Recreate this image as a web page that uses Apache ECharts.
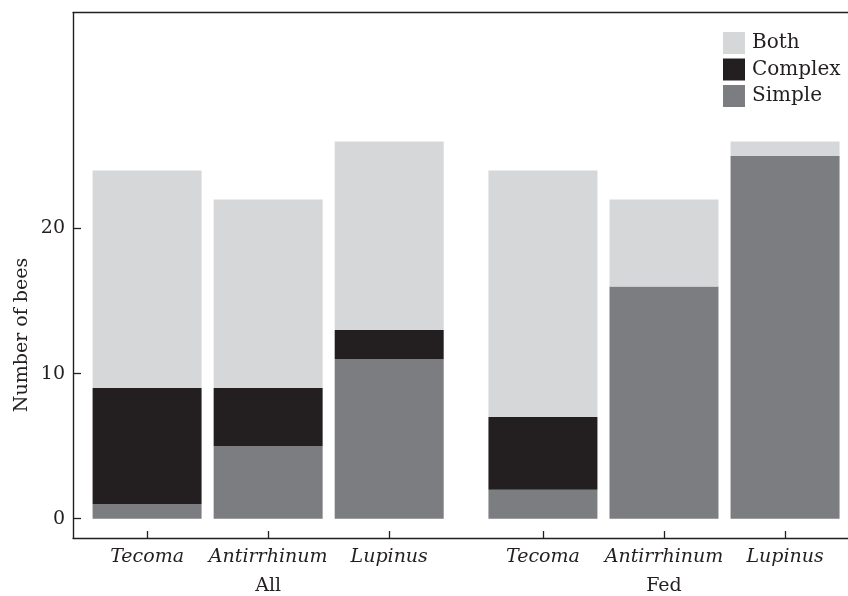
<!DOCTYPE html>
<html>
<head>
<meta charset="utf-8">
<script src="https://cdn.jsdelivr.net/npm/echarts@6/dist/echarts.min.js"></script>
<style>
  html, body { margin: 0; padding: 0; background: #fff; }
  #chart { width: 848px; height: 596px; }
</style>
</head>
<body>
<div id="chart"></div>
<script>
// Flower species shown in each treatment group
const species = ['Tecoma', 'Antirrhinum', 'Lupinus'];
const groups = ['All', 'Fed'];

// Number of bees per strategy, ordered All (3 species) then Fed (3 species)
const simpleBees  = [1, 5, 11, 2, 16, 25];
const complexBees = [8, 4, 2, 5, 0, 0];
const bothBees    = [15, 13, 13, 17, 6, 1];

const yTicks = [0, 10, 20];

// Layout: bars one unit apart, groups separated by a wider step
const GROUP_STEP = 3.27;
const positions = [];
const labelByPos = {};
groups.forEach((g, gi) => {
  species.forEach((s, si) => {
    const x = +(1 + si + gi * GROUP_STEP).toFixed(2);
    positions.push(x);
    labelByPos[Math.round(x * 100)] = { name: s, group: si === 1 ? g : null };
  });
});

const ink = '#231f20';
const font = 'DejaVu Serif';

// Each datum is [count, position]; the count is listed first so it is the stacked dimension
function seriesFor(name, values, color) {
  return {
    name: name,
    type: 'bar',
    stack: 'bees',
    barWidth: 109,
    encode: { x: 1, y: 0 },
    itemStyle: { color: color },
    data: values.map((v, i) => [v, positions[i]])
  };
}

const chart = echarts.init(document.getElementById('chart'), null, { renderer: 'canvas' });
chart.setOption({
  animation: false,
  backgroundColor: '#ffffff',
  grid: { left: 73, top: 12.7, right: 0, bottom: 56.7, containLabel: false },
  legend: {
    orient: 'vertical',
    left: 718,
    top: 27,
    icon: 'rect',
    itemWidth: 22,
    itemHeight: 22,
    itemGap: 4.5,
    data: ['Both', 'Complex', 'Simple'],
    textStyle: { fontFamily: font, fontSize: 20, color: ink, padding: [0, 0, 0, 2], lineHeight: 22 }
  },
  xAxis: [{
    type: 'value',
    min: 0.388,
    max: 6.79,
    splitLine: { show: false },
    axisLine: { show: true, onZero: false, lineStyle: { color: ink, width: 1.4 } },
    axisTick: { show: true, inside: true, length: 7, customValues: positions, lineStyle: { color: ink, width: 1.3 } },
    axisLabel: {
      customValues: positions,
      margin: 5,
      formatter: function (v) {
        const item = labelByPos[Math.round(v * 100)];
        if (!item) return '';
        return item.group ? '{sp|' + item.name + '}\n{grp|' + item.group + '}' : '{sp|' + item.name + '}';
      },
      rich: {
        sp: { fontFamily: font, fontStyle: 'italic', fontSize: 19, color: ink, lineHeight: 29 },
        grp: { fontFamily: font, fontSize: 19, color: ink, lineHeight: 29 }
      }
    }
  }, {
    type: 'value',
    position: 'top',
    min: 0.388,
    max: 6.79,
    splitLine: { show: false },
    axisLine: { show: true, onZero: false, lineStyle: { color: ink, width: 1.4 } },
    axisTick: { show: false },
    axisLabel: { show: false }
  }],
  yAxis: {
    type: 'value',
    min: -1.33,
    max: 34.87,
    splitLine: { show: false },
    axisLine: { show: true, onZero: false, lineStyle: { color: ink, width: 1.4 } },
    axisTick: { show: true, inside: true, length: 8, customValues: yTicks, lineStyle: { color: ink, width: 1.3 } },
    axisLabel: { customValues: yTicks, margin: 8, fontFamily: font, fontSize: 19, color: ink }
  },
  graphic: [{
    type: 'text',
    x: 22,
    y: 335,
    rotation: Math.PI / 2,
    style: {
      text: 'Number of bees',
      fontFamily: font,
      fontSize: 19,
      fill: ink,
      align: 'center',
      verticalAlign: 'middle'
    }
  }],
  series: [
    seriesFor('Simple', simpleBees, '#7c7d81'),
    seriesFor('Complex', complexBees, '#231f20'),
    seriesFor('Both', bothBees, '#d6d7d9')
  ]
});
</script>
</body>
</html>
